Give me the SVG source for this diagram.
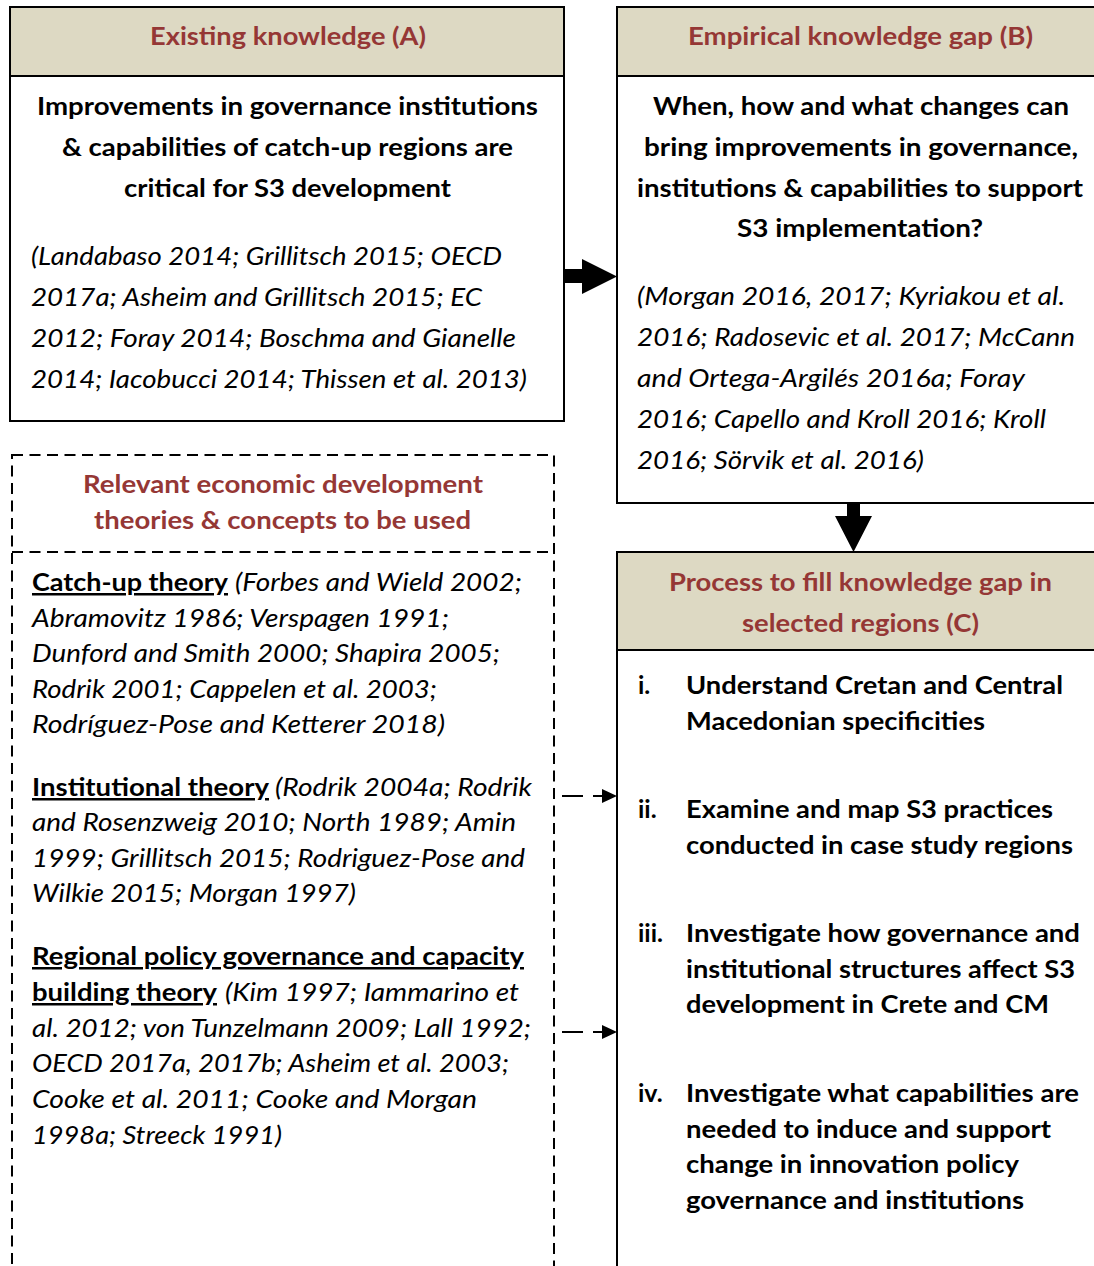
<svg xmlns="http://www.w3.org/2000/svg" width="1094" height="1266" viewBox="0 0 1094 1266">
  <style>
    .frame{fill:none;stroke:#000;stroke-width:2}
    .body{fill:#fff}
    .hdr{fill:#ddd9c3;stroke:#000;stroke-width:2}
    .dash{fill:none;stroke:#000;stroke-width:2;stroke-dasharray:11,6.5}
    text{font-family:Lato,"Liberation Sans",sans-serif;font-size:25px;fill:#000}
    .t{font-weight:700;fill:#953735}
    .b{font-weight:700}
    .i{font-style:italic}
    .u{text-decoration:underline}
    .blk{fill:#000}
    .con{fill:none;stroke:#000;stroke-width:2;stroke-dasharray:21,10}
  </style>
  <defs>
    <marker id="head" markerUnits="userSpaceOnUse" markerWidth="16" markerHeight="16" refX="15" refY="7" orient="auto">
      <path d="M0,0 L15,7 L0,14 Z" fill="#000"/>
    </marker>
  </defs>

  <rect width="1094" height="1266" fill="#fff"/>

  <!-- connectors -->
  <g id="connectors">
    <polygon class="blk" points="564,269 582,269 582,259 617,276.5 582,294 582,283 564,283"/>
    <polygon class="blk" points="847,503 860,503 860,516 872,516 853.5,552 835,516 847,516"/>
    <line class="con" x1="562" y1="796" x2="617" y2="796" marker-end="url(#head)"/>
    <line class="con" x1="562" y1="1032" x2="617" y2="1032" marker-end="url(#head)"/>
  </g>

  <!-- (A) existing knowledge -->
  <g id="nodeA">
    <rect class="body" x="10" y="7" width="554" height="414"/>
    <rect class="hdr" x="10" y="7" width="554" height="69"/>
    <rect class="frame" x="10" y="7" width="554" height="414"/>
    <text class="t" x="150" y="45" textLength="276" lengthAdjust="spacingAndGlyphs">Existing knowledge (A)</text>
    <text class="b" x="37" y="115" textLength="501" lengthAdjust="spacingAndGlyphs">Improvements in governance institutions</text>
    <text class="b" x="62" y="156" textLength="451" lengthAdjust="spacingAndGlyphs">&amp; capabilities of catch-up regions are</text>
    <text class="b" x="124" y="197" textLength="327" lengthAdjust="spacingAndGlyphs">critical for S3 development</text>
    <text class="i" x="31" y="265" textLength="471" lengthAdjust="spacingAndGlyphs">(Landabaso 2014; Grillitsch 2015; OECD</text>
    <text class="i" x="31" y="306" textLength="451" lengthAdjust="spacingAndGlyphs">2017a; Asheim and Grillitsch 2015; EC</text>
    <text class="i" x="31" y="347" textLength="485" lengthAdjust="spacingAndGlyphs">2012; Foray 2014; Boschma and Gianelle</text>
    <text class="i" x="31" y="388" textLength="496" lengthAdjust="spacingAndGlyphs">2014; Iacobucci 2014; Thissen et al. 2013)</text>
  </g>

  <!-- (B) empirical knowledge gap -->
  <g id="nodeB">
    <rect class="body" x="617" y="7" width="500" height="496"/>
    <rect class="hdr" x="617" y="7" width="500" height="69"/>
    <rect class="frame" x="617" y="7" width="500" height="496"/>
    <text class="t" x="688" y="45" textLength="345" lengthAdjust="spacingAndGlyphs">Empirical knowledge gap (B)</text>
    <text class="b" x="653" y="115" textLength="416" lengthAdjust="spacingAndGlyphs">When, how and what changes can</text>
    <text class="b" x="644" y="156" textLength="434" lengthAdjust="spacingAndGlyphs">bring improvements in governance,</text>
    <text class="b" x="637" y="197" textLength="446" lengthAdjust="spacingAndGlyphs">institutions &amp; capabilities to support</text>
    <text class="b" x="737" y="237" textLength="246" lengthAdjust="spacingAndGlyphs">S3 implementation?</text>
    <text class="i" x="637" y="305" textLength="428" lengthAdjust="spacingAndGlyphs">(Morgan 2016, 2017; Kyriakou et al.</text>
    <text class="i" x="637" y="346" textLength="438" lengthAdjust="spacingAndGlyphs">2016; Radosevic et al. 2017; McCann</text>
    <text class="i" x="637" y="387" textLength="388" lengthAdjust="spacingAndGlyphs">and Ortega-Argilés 2016a; Foray</text>
    <text class="i" x="637" y="428" textLength="409" lengthAdjust="spacingAndGlyphs">2016; Capello and Kroll 2016; Kroll</text>
    <text class="i" x="637" y="469" textLength="287" lengthAdjust="spacingAndGlyphs">2016; Sörvik et al. 2016)</text>
  </g>

  <!-- theories and concepts (dashed panel) -->
  <g id="theories">
    <rect class="dash" x="12" y="455" width="542" height="860"/>
    <line class="dash" x1="12" y1="552" x2="554" y2="552"/>
    <text class="t" x="83" y="493" textLength="400" lengthAdjust="spacingAndGlyphs">Relevant economic development</text>
    <text class="t" x="94" y="529" textLength="377" lengthAdjust="spacingAndGlyphs">theories &amp; concepts to be used</text>

    <text class="b u" x="32" y="591" textLength="196" lengthAdjust="spacingAndGlyphs">Catch-up theory</text>
    <text class="i" x="235" y="591" textLength="287" lengthAdjust="spacingAndGlyphs">(Forbes and Wield 2002;</text>
    <text class="i" x="32" y="627" textLength="417" lengthAdjust="spacingAndGlyphs">Abramovitz 1986; Verspagen 1991;</text>
    <text class="i" x="32" y="662" textLength="468" lengthAdjust="spacingAndGlyphs">Dunford and Smith 2000; Shapira 2005;</text>
    <text class="i" x="32" y="698" textLength="405" lengthAdjust="spacingAndGlyphs">Rodrik 2001; Cappelen et al. 2003;</text>
    <text class="i" x="32" y="733" textLength="413" lengthAdjust="spacingAndGlyphs">Rodríguez-Pose and Ketterer 2018)</text>

    <text class="b u" x="32" y="796" textLength="237" lengthAdjust="spacingAndGlyphs">Institutional theory</text>
    <text class="i" x="275" y="796" textLength="257" lengthAdjust="spacingAndGlyphs">(Rodrik 2004a; Rodrik</text>
    <text class="i" x="32" y="831" textLength="484" lengthAdjust="spacingAndGlyphs">and Rosenzweig 2010; North 1989; Amin</text>
    <text class="i" x="32" y="867" textLength="493" lengthAdjust="spacingAndGlyphs">1999; Grillitsch 2015; Rodriguez-Pose and</text>
    <text class="i" x="32" y="902" textLength="324" lengthAdjust="spacingAndGlyphs">Wilkie 2015; Morgan 1997)</text>

    <text class="b u" x="32" y="965" textLength="492" lengthAdjust="spacingAndGlyphs">Regional policy governance and capacity</text>
    <text class="b u" x="32" y="1001" textLength="185" lengthAdjust="spacingAndGlyphs">building theory</text>
    <text class="i" x="225" y="1001" textLength="294" lengthAdjust="spacingAndGlyphs">(Kim 1997; Iammarino et</text>
    <text class="i" x="32" y="1037" textLength="499" lengthAdjust="spacingAndGlyphs">al. 2012; von Tunzelmann 2009; Lall 1992;</text>
    <text class="i" x="32" y="1072" textLength="477" lengthAdjust="spacingAndGlyphs">OECD 2017a, 2017b; Asheim et al. 2003;</text>
    <text class="i" x="32" y="1108" textLength="445" lengthAdjust="spacingAndGlyphs">Cooke et al. 2011; Cooke and Morgan</text>
    <text class="i" x="32" y="1144" textLength="250" lengthAdjust="spacingAndGlyphs">1998a; Streeck 1991)</text>
  </g>

  <!-- (C) process to fill the gap -->
  <g id="nodeC">
    <rect class="body" x="617" y="552" width="500" height="760"/>
    <rect class="hdr" x="617" y="552" width="500" height="98"/>
    <rect class="frame" x="617" y="552" width="500" height="760"/>
    <text class="t" x="669" y="591" textLength="383" lengthAdjust="spacingAndGlyphs">Process to fill knowledge gap in</text>
    <text class="t" x="742" y="632" textLength="237" lengthAdjust="spacingAndGlyphs">selected regions (C)</text>

    <text class="b" x="638" y="694">i.</text>
    <text class="b" x="686" y="694" textLength="377" lengthAdjust="spacingAndGlyphs">Understand Cretan and Central</text>
    <text class="b" x="686" y="730" textLength="299" lengthAdjust="spacingAndGlyphs">Macedonian specificities</text>

    <text class="b" x="638" y="818">ii.</text>
    <text class="b" x="686" y="818" textLength="367" lengthAdjust="spacingAndGlyphs">Examine and map S3 practices</text>
    <text class="b" x="686" y="854" textLength="387" lengthAdjust="spacingAndGlyphs">conducted in case study regions</text>

    <text class="b" x="638" y="942">iii.</text>
    <text class="b" x="686" y="942" textLength="394" lengthAdjust="spacingAndGlyphs">Investigate how governance and</text>
    <text class="b" x="686" y="978" textLength="389" lengthAdjust="spacingAndGlyphs">institutional structures affect S3</text>
    <text class="b" x="686" y="1013" textLength="363" lengthAdjust="spacingAndGlyphs">development in Crete and CM</text>

    <text class="b" x="638" y="1102">iv.</text>
    <text class="b" x="686" y="1102" textLength="393" lengthAdjust="spacingAndGlyphs">Investigate what capabilities are</text>
    <text class="b" x="686" y="1138" textLength="365" lengthAdjust="spacingAndGlyphs">needed to induce and support</text>
    <text class="b" x="686" y="1173" textLength="333" lengthAdjust="spacingAndGlyphs">change in innovation policy</text>
    <text class="b" x="686" y="1209" textLength="338" lengthAdjust="spacingAndGlyphs">governance and institutions</text>
  </g>
</svg>
